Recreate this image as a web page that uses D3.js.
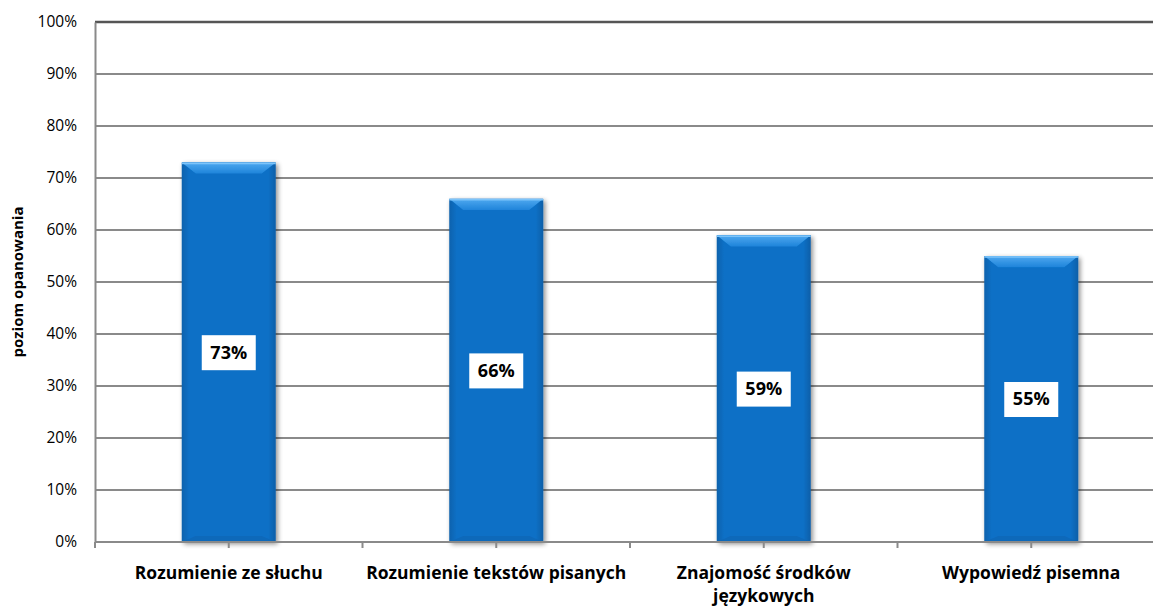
<!DOCTYPE html>
<html><head><meta charset="utf-8">
<script src="https://cdn.jsdelivr.net/npm/d3@7"></script>
<style>body{margin:0;background:#fff}svg{display:block}</style>
</head><body>
<svg id="c" width="1153" height="608"></svg>
<script>
const categories = ["Rozumienie ze słuchu","Rozumienie tekstów pisanych","Znajomość środków|językowych","Wypowiedź pisemna"];
const values = [73, 66, 59, 55];
const yTicks = [0,10,20,30,40,50,60,70,80,90,100];
const yTitle = "poziom opanowania";

const svg = d3.select("#c");
const m = {l:95, t:22, r:-12, b:66};
const W = 1153, H = 608;
const x = d3.scaleBand().domain(categories).range([m.l, W - m.r]).paddingInner(0).paddingOuter(0);
const y = d3.scaleLinear().domain([0,100]).range([H - m.b, m.t]);
const font = "'Open Sans', Lato, sans-serif";

const defs = svg.append("defs");
const f = defs.append("filter").attr("id","sh").attr("x","-20%").attr("y","-10%").attr("width","140%").attr("height","120%");
f.append("feGaussianBlur").attr("in","SourceAlpha").attr("stdDeviation",2.5);
f.append("feOffset").attr("dx",2).attr("dy",2).attr("result","b");
f.append("feComponentTransfer").append("feFuncA").attr("type","linear").attr("slope",0.45);
const mg = f.append("feMerge"); mg.append("feMergeNode"); mg.append("feMergeNode").attr("in","SourceGraphic");
const lg = defs.append("linearGradient").attr("id","bev").attr("x1",0).attr("y1",0).attr("x2",0).attr("y2",1);
lg.append("stop").attr("offset","0%").attr("stop-color","#4fa9f0");
lg.append("stop").attr("offset","100%").attr("stop-color","#1f84da");
const sg = defs.append("linearGradient").attr("id","side").attr("x1",0).attr("y1",0).attr("x2",1).attr("y2",0);
sg.append("stop").attr("offset","0%").attr("stop-color","#0a62ad");
sg.append("stop").attr("offset","8%").attr("stop-color","#0b70c6");
sg.append("stop").attr("offset","92%").attr("stop-color","#0b70c6");
sg.append("stop").attr("offset","100%").attr("stop-color","#0a5fa8");

// gridlines
svg.append("g").selectAll("line").data(yTicks.filter(d=>d>0)).join("line")
  .attr("x1", m.l).attr("x2", W).attr("y1", d=>y(d)).attr("y2", d=>y(d))
  .attr("stroke", d=> d===100 ? "#555" : "#8a8a8a").attr("stroke-width", d=> d===100?2.5:2);

// y axis
const ya = svg.append("g").attr("transform",`translate(${m.l},0)`)
  .call(d3.axisLeft(y).tickValues(yTicks).tickFormat(d=>d+"%").tickSize(0).tickPadding(18));
ya.select(".domain").attr("stroke","#8a8a8a").attr("stroke-width",2);
ya.selectAll("text").attr("font-family",font).attr("font-size",15.5).attr("fill","#000");

// y title
svg.append("text").attr("transform",`translate(23,${(y(0)+y(100))/2}) rotate(-90)`)
  .attr("text-anchor","middle").attr("font-family",font).attr("font-weight","bold").attr("font-size",15)
  .text(yTitle);

// bars
const bw = 94;
const bars = svg.append("g").selectAll("g").data(categories).join("g").attr("filter","url(#sh)");
bars.append("rect").attr("x", d=>x(d)+x.bandwidth()/2-bw/2).attr("width",bw)
  .attr("y",(d,i)=>y(values[i])).attr("height",(d,i)=>y(0)-y(values[i])).attr("fill","url(#side)");
const bev = 14;
bars.append("path").attr("d",(d,i)=>{
  const x0=x(d)+x.bandwidth()/2-bw/2, x1=x0+bw, t=y(values[i]);
  return `M${x0},${t}L${x1},${t}L${x1-bev},${t+bev*0.8}L${x0+bev},${t+bev*0.8}Z`;
}).attr("fill","url(#bev)");
bars.append("path").attr("d",(d,i)=>{
  const x0=x(d)+x.bandwidth()/2-bw/2, x1=x0+bw, b=y(0);
  return `M${x0},${b}L${x1},${b}L${x1-bev},${b-6}L${x0+bev},${b-6}Z`;
}).attr("fill","#0a64b2").attr("opacity",0.6);
bars.append("line").attr("x1",d=>x(d)+x.bandwidth()/2-bw/2).attr("x2",d=>x(d)+x.bandwidth()/2+bw/2)
  .attr("y1",(d,i)=>y(values[i])+1).attr("y2",(d,i)=>y(values[i])+1).attr("stroke","#7cc4fa").attr("stroke-width",1.5);

// x axis
const xa = svg.append("g").attr("transform",`translate(0,${y(0)})`);
xa.append("line").attr("x1",m.l).attr("x2",W).attr("stroke","#8a8a8a").attr("stroke-width",2);
const tickXs = [];
categories.forEach(c=>{tickXs.push(x(c)); tickXs.push(x(c)+x.bandwidth()/2);});
xa.selectAll("line.t").data(tickXs).join("line").attr("class","t")
  .attr("x1",d=>d).attr("x2",d=>d).attr("y1",0).attr("y2",6).attr("stroke","#8a8a8a").attr("stroke-width",2);
xa.selectAll("text").data(categories).join("text")
  .attr("x",d=>x(d)+x.bandwidth()/2).attr("y",37).attr("text-anchor","middle")
  .attr("font-family",font).attr("font-weight","bold").attr("font-size",17.5)
  .each(function(d){
    const parts=d.split("|");
    d3.select(this).selectAll("tspan").data(parts).join("tspan")
      .attr("x",x(d)+x.bandwidth()/2).attr("dy",(p,j)=>j?23:0).text(p=>p);
  });

// labels
const lab = svg.append("g").selectAll("g").data(categories).join("g")
  .attr("transform",(d,i)=>`translate(${x(d)+x.bandwidth()/2},${(y(values[i])+y(0))/2})`);
lab.append("rect").attr("x",-27).attr("y",-17).attr("width",54).attr("height",35).attr("fill","#fff");
lab.append("text").attr("text-anchor","middle").attr("dy","0.36em").attr("font-family",font)
  .attr("font-weight","bold").attr("font-size",18).text((d,i)=>values[i]+"%");
</script>
</body></html>
